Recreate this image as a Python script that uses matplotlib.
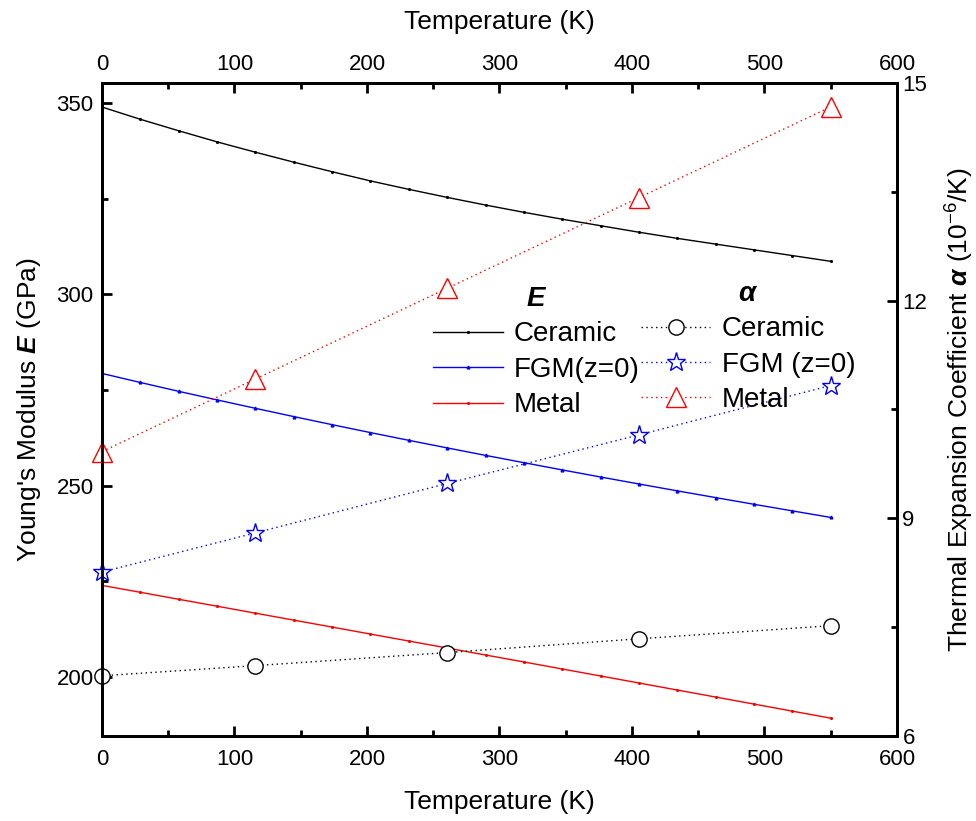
import matplotlib.pyplot as plt
from matplotlib.ticker import MultipleLocator

plt.rcParams['font.family'] = ['Liberation Sans', 'DejaVu Sans']
plt.rcParams['mathtext.fontset'] = 'custom'
plt.rcParams['mathtext.rm'] = 'Liberation Sans'
plt.rcParams['mathtext.it'] = 'Liberation Sans:italic'
plt.rcParams['mathtext.bf'] = 'Liberation Sans:bold'
plt.rcParams['mathtext.bfit'] = 'Liberation Sans:italic:bold'

# temperature grid (K) of the E curves
T = [0, 28.95, 57.89, 86.84, 115.79, 144.74, 173.68, 202.63, 231.58, 260.53,
     289.47, 318.42, 347.37, 376.32, 405.26, 434.21, 463.16, 492.11, 521.05, 550]

# Young's modulus (GPa)
E_ceramic = [348.9, 345.7, 342.7, 339.8, 337.1, 334.5, 332.0, 329.6, 327.4, 325.3,
             323.3, 321.4, 319.6, 317.9, 316.2, 314.6, 313.1, 311.6, 310.1, 308.6]
E_fgm = [279.31, 276.95, 274.64, 272.40, 270.20, 268.04, 265.93, 263.86, 261.84, 259.86,
         257.91, 256.00, 254.11, 252.26, 250.44, 248.64, 246.88, 245.13, 243.41, 241.70]
E_metal = [223.95, 222.14, 220.32, 218.51, 216.69, 214.87, 213.06, 211.23, 209.41, 207.59,
           205.76, 203.94, 202.11, 200.28, 198.45, 196.61, 194.78, 192.94, 191.10, 189.26]

# thermal expansion coefficient (1e-6/K)
T_a = [0, 115.79, 260.53, 405.26, 550]
a_ceramic = [6.83, 6.97, 7.15, 7.34, 7.52]
a_fgm = [8.26, 8.80, 9.48, 10.15, 10.83]
a_metal = [9.92, 10.92, 12.17, 13.42, 14.67]

x_ticks = [0, 100, 200, 300, 400, 500, 600]

fig = plt.figure(figsize=(9.76, 8.21), dpi=100)
ax = fig.add_axes([0.1045, 0.1035, 0.8145, 0.7955])
ax2 = ax.twinx()

l1, = ax.plot(T, E_ceramic, '-', color='black', lw=1, marker='.', ms=2.5, label='Ceramic')
l2, = ax.plot(T, E_fgm, '-', color='blue', lw=1, marker='^', ms=2, label='FGM(z=0)')
l3, = ax.plot(T, E_metal, '-', color='red', lw=1, marker='.', ms=2.5, label='Metal')

dots = (0, (1, 2.5))
m1, = ax2.plot(T_a, a_ceramic, color='black', ls=dots, lw=1, marker='o', ms=11,
               mfc='white', mec='black', mew=1, clip_on=False, label='Ceramic')
m2, = ax2.plot(T_a, a_fgm, color='blue', ls=dots, lw=1, marker='*', ms=14,
               mfc='white', mec='blue', mew=1, clip_on=False, label='FGM (z=0)')
m3, = ax2.plot(T_a, a_metal, color='red', ls=dots, lw=1, marker='^', ms=14,
               mfc='white', mec='red', mew=1, clip_on=False, label='Metal')

ax.set_xlim(0, 600)
ax.set_ylim(184.6, 355.2)
ax2.set_ylim(6, 15)

ax.set_xticks(x_ticks)
ax.xaxis.set_minor_locator(MultipleLocator(50))
ax.yaxis.set_major_locator(MultipleLocator(50))
ax.yaxis.set_minor_locator(MultipleLocator(25))
ax2.yaxis.set_major_locator(MultipleLocator(3))
ax2.yaxis.set_minor_locator(MultipleLocator(1.5))

top = ax.secondary_xaxis('top')
top.set_xticks(x_ticks)
top.xaxis.set_minor_locator(MultipleLocator(50))
top.set_xlabel('Temperature (K)', fontsize=19, labelpad=18)

for a in (ax, ax2, top):
    a.tick_params(which='major', direction='in', length=7, width=2, labelsize=16, pad=6)
    a.tick_params(which='minor', direction='in', length=4, width=2)
ax.tick_params(axis='x', which='major', pad=9)
ax2.tick_params(axis='y', which='major', pad=4)
for s in ax.spines.values():
    s.set_linewidth(2)
for s in ax2.spines.values():
    s.set_linewidth(2)
top.spines['top'].set_linewidth(2)

ax.set_xlabel('Temperature (K)', fontsize=19, labelpad=15)
ax.set_ylabel("Young's Modulus $\\mathbfit{E}$ (GPa)", fontsize=19, labelpad=10)
ax2.set_ylabel('Thermal Expansion Coefficient $\\mathbfit{\\alpha}$ ($10^{-6}$/K)',
               fontsize=19, labelpad=12)

leg1 = ax2.legend(handles=[l1, l2, l3], title='$\\mathbfit{E}$', frameon=False,
                  fontsize=20, title_fontsize=20, handlelength=2.5, handletextpad=0.4,
                  labelspacing=0.34, loc='upper left', bbox_to_anchor=(0.4025, 0.706),
                  borderaxespad=0)
ax2.add_artist(leg1)
leg2 = ax2.legend(handles=[m1, m2, m3], title='$\\mathbfit{\\alpha}$', frameon=False,
                  fontsize=20, title_fontsize=20, handlelength=2.5, handletextpad=0.4,
                  labelspacing=0.34, loc='upper left', bbox_to_anchor=(0.664, 0.714),
                  borderaxespad=0)

fig.savefig('out.png', dpi=100)
